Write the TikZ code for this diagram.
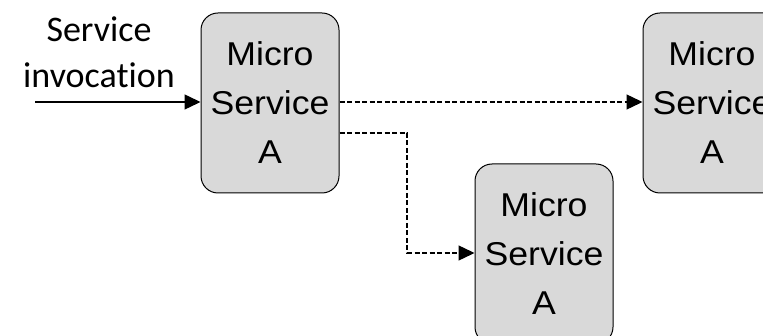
\documentclass[tikz,border=0pt]{standalone}
\usepackage{fontspec}
\setmainfont{Liberation Sans}[FakeStretch=1.08]
\newfontfamily\carlfont{Carlito}[Ligatures=CommonOff]
\usetikzlibrary{arrows.meta}
\begin{document}
\begin{tikzpicture}[x=1pt,y=-1pt,
  msbox/.style={draw=black,line width=1pt,fill=black!15,rounded corners=17pt,
    minimum width=138pt,minimum height=180pt,inner sep=0pt,align=center,
    font=\fontsize{33}{49}\selectfont},
  tip/.style={-{Triangle[length=16pt,width=15pt]}},
  dashconn/.style={tip,line width=1.4pt,dash pattern=on 5pt off 2.5pt}]
\useasboundingbox (0,0) rectangle (763,336);
\node[msbox] (a) at (270,103) {Micro\\Service\\A};
\node[msbox] (b) at (712,103) {Micro\\Service\\A};
\node[msbox] (c) at (544,254) {Micro\\Service\\A};
\node[align=center,inner sep=0pt,font=\carlfont\fontsize{36}{46}\selectfont] (lbl) at (99,52) {Service\\invocation};
\coordinate (in) at (35,102);
\draw[tip,line width=1.5pt] (in) -- (a.west |- in);
\draw[dashconn] (a.east |- 0,102) -- (b.west |- 0,102);
\coordinate (bend) at (407,133);
\draw[dashconn] (a.east |- bend) -- (bend) |- (c.west |- 0,253);
\end{tikzpicture}
\end{document}
